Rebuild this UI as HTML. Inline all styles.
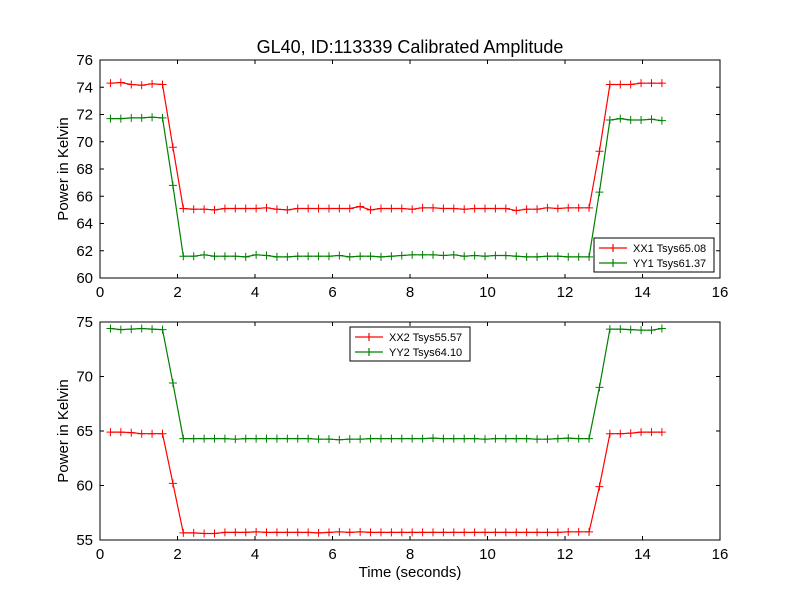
<!DOCTYPE html>
<html><head><meta charset="utf-8"><style>
body{margin:0;background:#fff;}
svg text{font-family:"Liberation Sans","DejaVu Sans",sans-serif;}
</style></head><body>
<svg id="chart" width="800" height="600" viewBox="0 0 800 600" xmlns="http://www.w3.org/2000/svg">
<rect width="800" height="600" fill="#ffffff"/>
<text x="410" y="53" font-size="18" text-anchor="middle">GL40, ID:113339 Calibrated Amplitude</text>
<g id="top"></g><g id="bottom"></g>
</svg>
<script>
const times = [];
const t0 = 0.27, dt = 0.2685;
for (let i = 0; i < 54; i++) times.push(+(t0 + dt * i).toFixed(3));
const xx1 = [74.3,74.35,74.2,74.15,74.25,74.2,69.6,65.1,65.05,65.05,65.0,65.1,65.1,65.1,65.1,65.15,65.05,65.0,65.1,65.1,65.1,65.1,65.1,65.1,65.25,65.0,65.1,65.1,65.1,65.05,65.15,65.15,65.1,65.1,65.05,65.1,65.1,65.1,65.1,64.95,65.05,65.05,65.15,65.1,65.15,65.15,65.15,69.3,74.2,74.2,74.2,74.3,74.3,74.3];
const yy1 = [71.7,71.7,71.75,71.75,71.8,71.75,66.8,61.6,61.6,61.7,61.6,61.6,61.6,61.55,61.7,61.65,61.55,61.55,61.6,61.6,61.6,61.6,61.65,61.55,61.6,61.6,61.55,61.6,61.65,61.7,61.7,61.7,61.65,61.7,61.6,61.65,61.6,61.65,61.65,61.6,61.55,61.55,61.6,61.6,61.55,61.55,61.55,66.3,71.6,71.7,71.6,71.6,71.65,71.55];
const xx2 = [64.9,64.9,64.85,64.75,64.75,64.75,60.2,55.65,55.65,55.6,55.6,55.7,55.7,55.7,55.75,55.7,55.7,55.7,55.7,55.7,55.65,55.7,55.75,55.7,55.75,55.7,55.7,55.7,55.7,55.7,55.7,55.7,55.7,55.7,55.7,55.7,55.7,55.7,55.7,55.7,55.7,55.7,55.7,55.7,55.75,55.75,55.75,59.9,64.75,64.75,64.8,64.9,64.9,64.9];
const yy2 = [74.4,74.3,74.35,74.4,74.35,74.3,69.4,64.3,64.3,64.3,64.3,64.3,64.25,64.3,64.3,64.3,64.3,64.3,64.3,64.3,64.25,64.25,64.2,64.25,64.25,64.3,64.3,64.3,64.3,64.3,64.3,64.35,64.3,64.3,64.3,64.3,64.25,64.3,64.3,64.3,64.3,64.25,64.25,64.3,64.35,64.3,64.3,69.0,74.35,74.35,74.3,74.25,74.25,74.4];
const xTicks = [0,2,4,6,8,10,12,14,16];
const topYTicks = [60,62,64,66,68,70,72,74,76];
const botYTicks = [55,60,65,70,75];
const NS = "http://www.w3.org/2000/svg";
function mk(parent, tag, attrs){const e=document.createElementNS(NS,tag);for(const k in attrs)e.setAttribute(k,attrs[k]);parent.appendChild(e);return e;}

function panel(g, top, bottom, ymin, ymax, yTicks, series, legend, showXLabel, prefix){
  const L=100,R=720;
  const xs=v=>L+(v-0)/(16-0)*(R-L);
  const ys=v=>bottom-(v-ymin)/(ymax-ymin)*(bottom-top);
  const clip = mk(g,'clipPath',{id:prefix+'clip'});
  mk(clip,'rect',{x:L,y:top,width:R-L,height:bottom-top});
  series.forEach(s=>{
    const sg = mk(g,'g',{'clip-path':'url(#'+prefix+'clip)'});
    
    
    const pts = times.map((t,i)=>xs(t).toFixed(1)+','+ys(s.vals[i]).toFixed(1)).join(' ');
    const pl = mk(sg,'polyline',{points:pts,fill:'none',stroke:s.color,'stroke-width':1.2});
    
    
    times.forEach((t,i)=>{
      const x=xs(t), y=ys(s.vals[i]);
      const m = mk(sg,'path',{d:`M${x-4},${y}H${x+4}M${x},${y-4}V${y+4}`,stroke:s.color,'stroke-width':1});
      
      
    });
  });
  const fr = mk(g,'rect',{x:L,y:top,width:R-L,height:bottom-top,fill:'none',stroke:'#000','stroke-width':1});
  
  
  xTicks.forEach(v=>{
    const x=xs(v);
    mk(g,'path',{d:`M${x},${bottom}v-4M${x},${top}v4`,stroke:'#000'});
    const t=mk(g,'text',{x:x,y:bottom+19,'font-size':15,'text-anchor':'middle'});
    
    
    t.textContent=v;
  });
  yTicks.forEach(v=>{
    const y=ys(v);
    mk(g,'path',{d:`M${L},${y}h4M${R},${y}h-4`,stroke:'#000'});
    const t=mk(g,'text',{x:L-7,y:y+5,'font-size':15,'text-anchor':'end'});
    
    
    t.textContent=v;
  });
  const yl=mk(g,'text',{x:0,y:0,'font-size':15,'text-anchor':'middle',transform:`translate(68,${(top+bottom)/2}) rotate(-90)`});
  
  
  yl.textContent='Power in Kelvin';
  if(showXLabel){
    const xl=mk(g,'text',{x:410,y:577,'font-size':15,'text-anchor':'middle'});
    
    
    xl.textContent='Time (seconds)';
  }
  const lg=mk(g,'g',{});
  
  
  mk(lg,'rect',{x:legend.x,y:legend.y,width:120,height:34,fill:'#fff',stroke:'#000','stroke-width':1});
  series.forEach((s,i)=>{
    const y=legend.y+10+i*15;
    const e=mk(lg,'g',{});
    
    
    mk(e,'path',{d:`M${legend.x+5},${y}h28M${legend.x+19},${y-4}v8M${legend.x+12},${y}`,stroke:s.color,'stroke-width':1.2});
    const t=mk(e,'text',{x:legend.x+39,y:y+4,'font-size':11});
    t.textContent=s.label;
  });
}
panel(document.getElementById('top'),60,278,60,76,topYTicks,
  [{name:'xx1',vals:xx1,color:'#ff0000',label:'XX1 Tsys65.08'},{name:'yy1',vals:yy1,color:'#008000',label:'YY1 Tsys61.37'}],
  {x:594,y:238},false,'top');
panel(document.getElementById('bottom'),322,540,55,75,botYTicks,
  [{name:'xx2',vals:xx2,color:'#ff0000',label:'XX2 Tsys55.57'},{name:'yy2',vals:yy2,color:'#008000',label:'YY2 Tsys64.10'}],
  {x:350,y:327},true,'bottom');
</script>
</body></html>
